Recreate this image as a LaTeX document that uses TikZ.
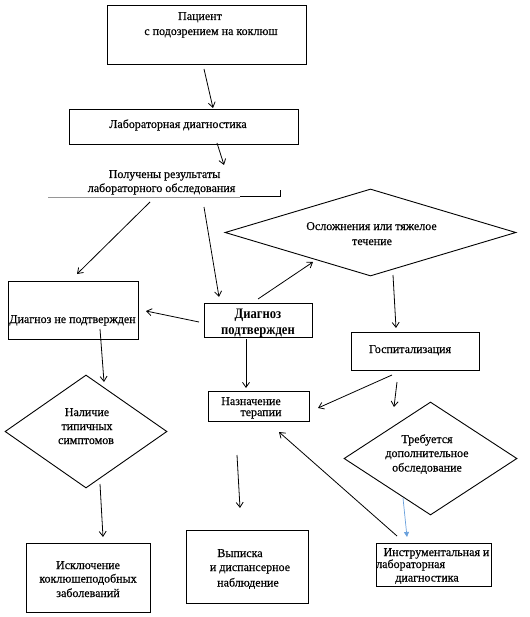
\documentclass[tikz,border=0pt]{standalone}
\usepackage{fontspec}
\setmainfont{Liberation Serif}
\newfontfamily\reffont[FakeBold=0.4]{Liberation Serif}
\newfontfamily\bref[FakeStretch=0.87]{Liberation Serif}
\usetikzlibrary{shapes.geometric,arrows.meta}
\definecolor{lineblue}{RGB}{105,160,220}
\definecolor{ulgray}{RGB}{150,150,150}
\begin{document}
\begin{tikzpicture}[x=1pt,y=-1pt,
  box/.style={draw=black,line width=0.9pt,inner sep=0pt,minimum width=#1},
  dia/.style={draw=black,line width=0.9pt,diamond,inner sep=0pt},
  txt/.style={anchor=base,inner sep=0pt,font=\reffont\fontsize{12}{14}\selectfont},
  btxt/.style={anchor=base,inner sep=0pt,font=\bref\fontsize{14.5}{16}\selectfont\bfseries},
  arr/.style={draw=black,line width=0.8pt,-{Straight Barb[length=5pt,width=7pt]}},
  barr/.style={draw=lineblue,line width=0.7pt,-{Triangle[length=5pt,width=5pt]}}
]
\useasboundingbox (0,0) rectangle (529,617);
% boxes
\node[box=199pt,minimum height=59pt] (pat) at (206.5,34.5) {};
\node[box=229pt,minimum height=35pt] (lab) at (183.5,126.5) {};
\node[box=130pt,minimum height=58pt] (ne) at (73,310) {};
\node[box=108pt,minimum height=34pt] (da) at (258,320) {};
\node[box=128pt,minimum height=38pt] (gos) at (415,351) {};
\node[box=101pt,minimum height=30pt] (nazn) at (258.5,406) {};
\node[box=124pt,minimum height=69pt] (isk) at (88,577.5) {};
\node[box=122pt,minimum height=73pt] (vyp) at (247,566.5) {};
\node[box=115pt,minimum height=43pt] (ins) at (433.5,564.5) {};
% diamonds
\node[dia,minimum width=291pt,minimum height=87pt] (osl) at (370.5,232.5) {};
\node[dia,minimum width=162pt,minimum height=113pt] (nal) at (86,431.5) {};
\node[dia,minimum width=173pt,minimum height=113pt] (treb) at (430.5,458.5) {};
% underline of results text
\coordinate (ulA) at (48,197);
\coordinate (ulB) at (240,197);
\coordinate (ulC) at (280,196);
\coordinate (ulD) at (280,190);
\draw[ulgray,line width=0.8pt] (ulA) -- (ulB);
\draw[black,line width=0.7pt] (ulB |- ulC) -- (ulC) -- (ulD);
% texts
\node[txt] (t1) at (200,20) {Пациент};
\node[txt] (t2) at (211,35) {с подозрением на коклюш};
\node[txt] (t3) at (178,128) {Лабораторная диагностика};
\node[txt] (t4) at (164.5,178) {Получены результаты};
\node[txt] (t5) at (161.5,192) {лабораторного обследования};
\node[txt] (t6) at (371.5,230) {Осложнения или тяжелое};
\node[txt] (t7) at (372,245) {течение};
\node[txt] (t8) at (72.5,323) {Диагноз не подтвержден};
\node[btxt] (t9) at (258,318) {Диагноз};
\node[btxt] (t10) at (258,334) {подтвержден};
\node[txt] (t11) at (410,353) {Госпитализация};
\node[txt] (t12) at (251,405) {Назначение};
\node[txt] (t13) at (261,416) {терапии};
\node[txt] (t14) at (87,416) {Наличие};
\node[txt] (t15) at (87,430) {типичных};
\node[txt] (t16) at (86,444) {симптомов};
\node[txt] (t17) at (88,569) {Исключение};
\node[txt] (t18) at (88,582.5) {коклюшеподобных};
\node[txt] (t19) at (88,597) {заболеваний};
\node[txt] (t20) at (240,557) {Выписка};
\node[txt] (t21) at (250,571) {и диспансерное};
\node[txt] (t22) at (248,586.5) {наблюдение};
\node[txt] (t23) at (427,443) {Требуется};
\node[txt] (t24) at (427,457) {дополнительное};
\node[txt] (t25) at (427,471.5) {обследование};
\node[txt] (t26) at (436.5,556) {Инструментальная и};
\node[txt,anchor=base west] (t27) at (376,568) {лабораторная};
\node[txt] (t28) at (427,581.5) {диагностика};
% arrow end points
\coordinate (a1s) at (204,69);  \coordinate (a1e) at (213,108);
\coordinate (a2s) at (217,143); \coordinate (a2e) at (224,165);
\coordinate (a3s) at (150,202); \coordinate (a3e) at (77,274);
\coordinate (a4s) at (204,207); \coordinate (a4e) at (219,297);
\coordinate (a5s) at (199,322); \coordinate (a5e) at (146,311);
\coordinate (a6s) at (258,299); \coordinate (a6e) at (313,262);
\coordinate (a7s) at (393,275); \coordinate (a7e) at (396,328);
\coordinate (a8s) at (100,329); \coordinate (a8e) at (104,382);
\coordinate (a9s) at (246,339); \coordinate (a9e) at (246,388);
\coordinate (a10s) at (392,375); \coordinate (a10e) at (318,408);
\coordinate (a11s) at (397,382); \coordinate (a11e) at (394,407);
\coordinate (a12s) at (100,484); \coordinate (a12e) at (103,537);
\coordinate (a13s) at (237,455); \coordinate (a13e) at (240,508);
\coordinate (a14s) at (403,498); \coordinate (a14e) at (407,537);
\coordinate (a15s) at (397,536); \coordinate (a15e) at (279,432);
% arrows
\draw[arr] (a1s) -- (a1e);
\draw[arr] (a2s) -- (a2e);
\draw[arr] (a3s) -- (a3e);
\draw[arr] (a4s) -- (a4e);
\draw[arr] (a5s) -- (a5e);
\draw[arr] (a6s) -- (a6e);
\draw[arr] (a7s) -- (a7e);
\draw[arr] (a8s) -- (a8e);
\draw[arr] (a9s) -- (a9e);
\draw[arr] (a10s) -- (a10e);
\draw[arr] (a11s) -- (a11e);
\draw[arr] (a12s) -- (a12e);
\draw[arr] (a13s) -- (a13e);
\draw[barr] (a14s) -- (a14e);
\draw[arr] (a15s) -- (a15e);
\end{tikzpicture}
\end{document}
